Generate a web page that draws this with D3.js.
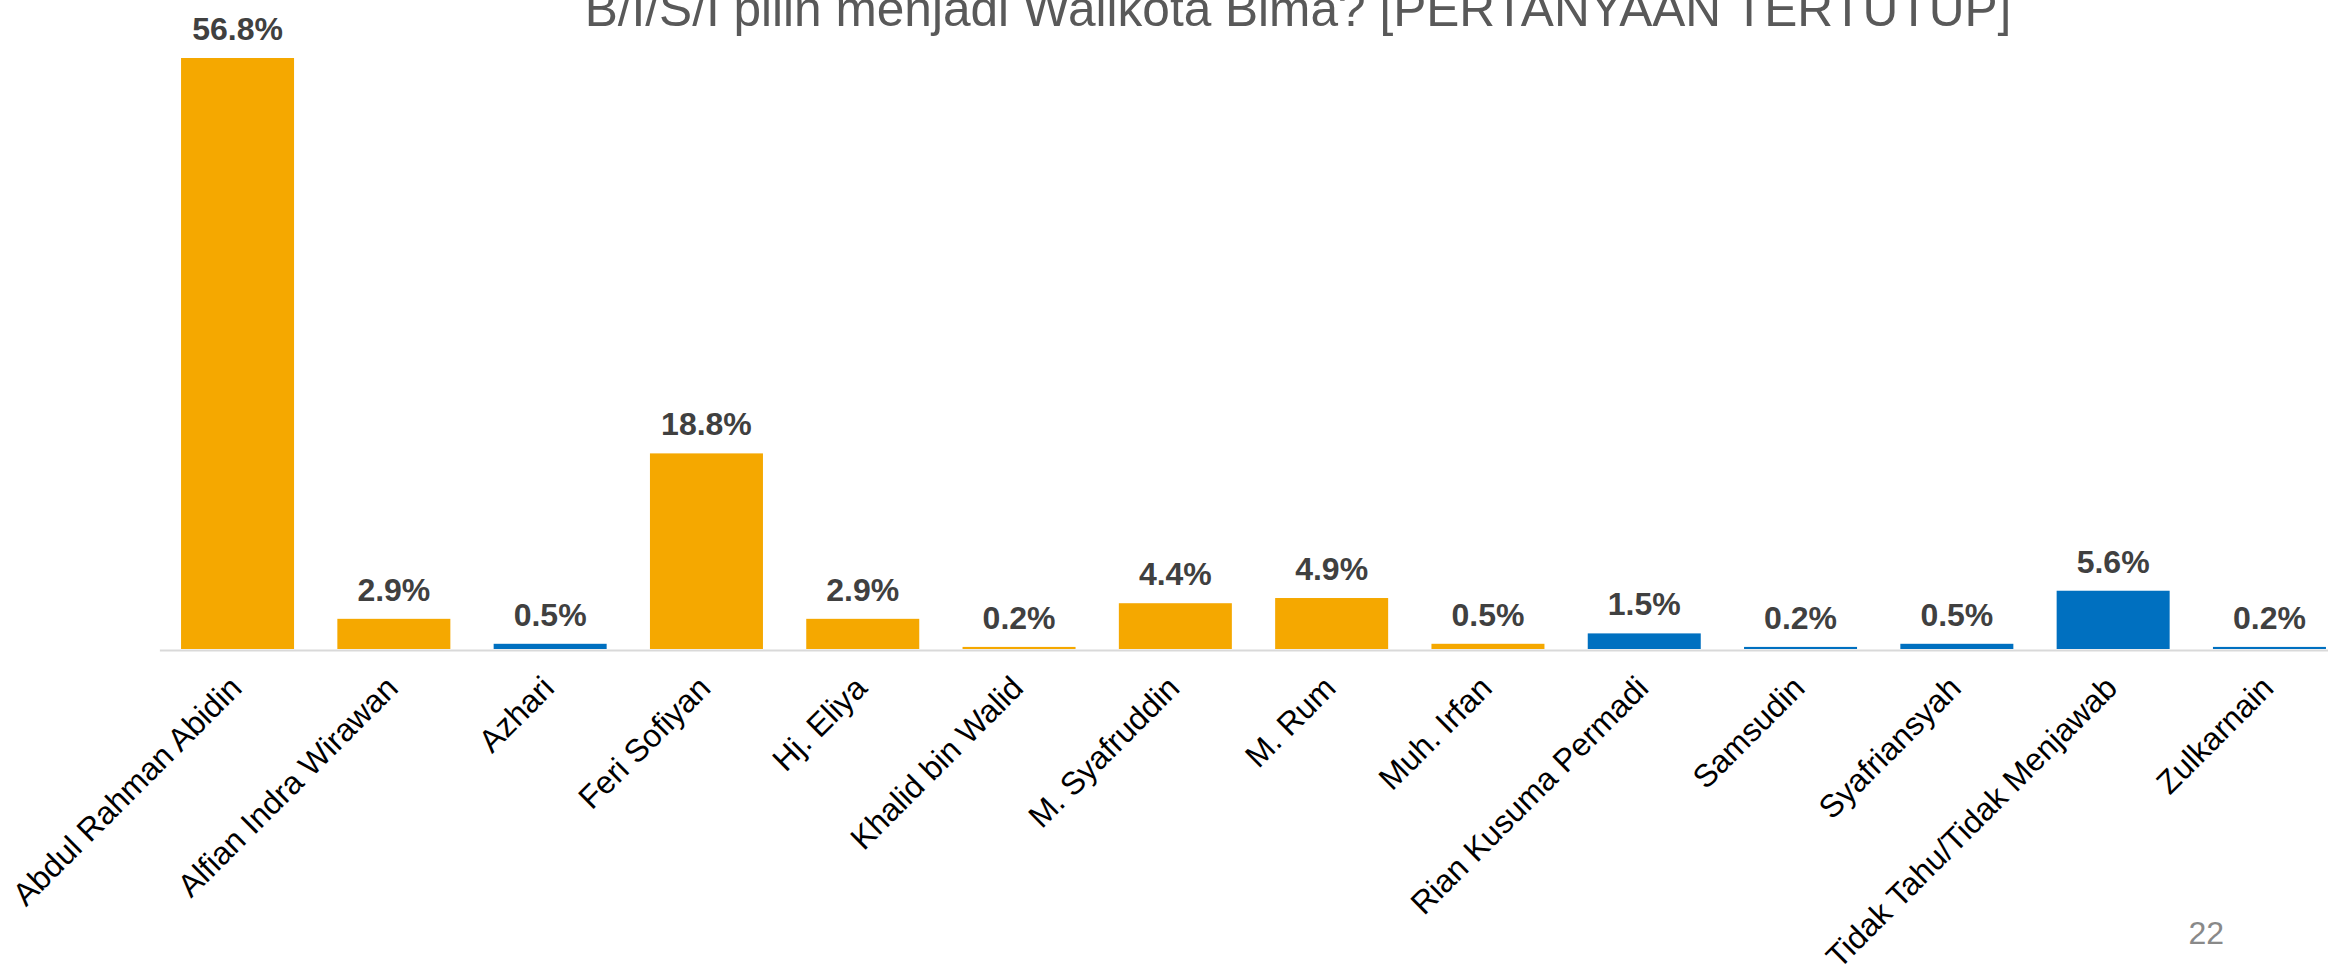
<!DOCTYPE html>
<html>
<head>
<meta charset="utf-8">
<script src="https://cdn.jsdelivr.net/npm/d3@7"></script>
<style>
  html, body { margin: 0; padding: 0; background: #fff; }
  svg { display: block; font-family: Arial, "Liberation Sans", sans-serif; }
</style>
</head>
<body>
<svg id="chart" width="2328" height="966"></svg>
<script>
// data
const candidates = ['Abdul Rahman Abidin', 'Alfian Indra Wirawan', 'Azhari', 'Feri Sofiyan', 'Hj. Eliya',
    'Khalid bin Walid', 'M. Syafruddin', 'M. Rum', 'Muh. Irfan', 'Rian Kusuma Permadi',
    'Samsudin', 'Syafriansyah', 'Tidak Tahu/Tidak Menjawab', 'Zulkarnain'];
const percents = [56.8, 2.9, 0.5, 18.8, 2.9, 0.2, 4.4, 4.9, 0.5, 1.5, 0.2, 0.5, 5.6, 0.2];
const groups = ['o', 'o', 'b', 'o', 'o', 'o', 'o', 'o', 'o', 'b', 'b', 'b', 'b', 'b'];
const titleText = 'B/I/S/I pilin menjadi Walikota Bima? [PERTANYAAN TERTUTUP]';
const pageNumber = '22';

const data = candidates.map((name, i) => ({name: name, value: percents[i], group: groups[i]}));

const svg = d3.select('#chart');
const baseY = 649;

const xScale = d3.scaleBand()
    .domain(candidates)
    .range([159.4, 159.4 + 14 * 156.3])
    .paddingInner(0.277)
    .paddingOuter(0.1385);

const yScale = d3.scaleLinear()
    .domain([0, 56.8])
    .range([baseY, 58]);

const color = d3.scaleOrdinal()
    .domain(['o', 'b'])
    .range(['#F5A800', '#0070C0']);

// title (cut off at the top in the original slide)
svg.append('text')
    .attr('x', 1298)
    .attr('y', 26)
    .attr('text-anchor', 'middle')
    .style('font-size', '49.6px')
    .style('fill', '#595959')
    .text(titleText);

// bars
svg.append('g').selectAll('rect')
    .data(data)
    .enter()
    .append('rect')
        .attr('x', d => xScale(d.name))
        .attr('y', d => yScale(d.value))
        .attr('width', xScale.bandwidth())
        .attr('height', d => baseY - yScale(d.value))
        .attr('fill', d => color(d.group));

// value labels
svg.append('g').selectAll('text')
    .data(data)
    .enter()
    .append('text')
        .attr('x', d => xScale(d.name) + xScale.bandwidth() / 2)
        .attr('y', d => yScale(d.value) - 18)
        .attr('text-anchor', 'middle')
        .style('font-size', '32px')
        .style('font-weight', 'bold')
        .style('fill', '#404040')
        .text(d => d.value.toFixed(1) + '%');

// category axis
const axis = d3.axisBottom(xScale).tickSizeInner(0).tickSizeOuter(0);
const xAxisG = svg.append('g')
    .attr('class', 'xAxisG')
    .attr('transform', 'translate(0,' + (baseY + 1) + ')')
    .call(axis);

xAxisG.select('path.domain')
    .style('stroke', '#d9d9d9')
    .style('stroke-width', 2);

xAxisG.selectAll('text')
    .attr('x', 0)
    .attr('y', 0)
    .attr('dy', 0)
    .attr('transform', 'translate(6,40) rotate(-45)')
    .style('text-anchor', 'end')
    .style('font-size', '32px')
    .style('font-family', 'Arial, "Liberation Sans", sans-serif')
    .style('fill', '#000');

// slide number
svg.append('text')
    .attr('x', 2224)
    .attr('y', 944)
    .attr('text-anchor', 'end')
    .style('font-size', '32px')
    .style('fill', '#898989')
    .text(pageNumber);
</script>
</body>
</html>
